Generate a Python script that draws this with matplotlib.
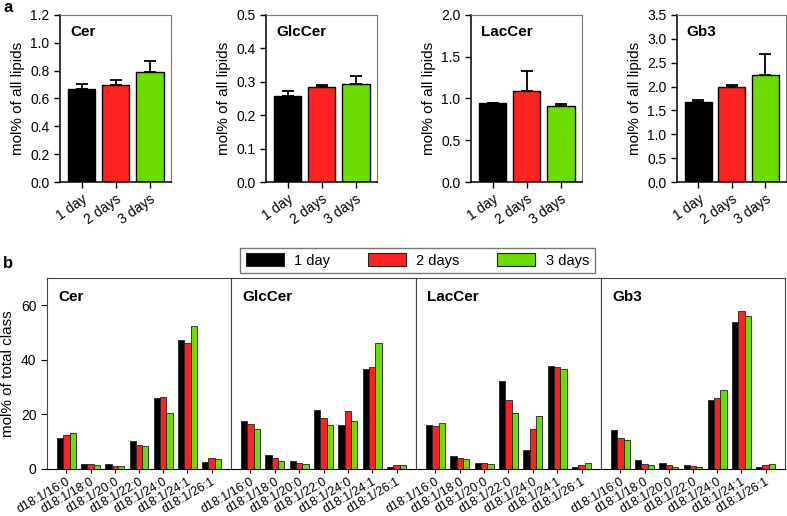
import numpy as np
import matplotlib.pyplot as plt
from matplotlib.patches import Patch

plt.rcParams['font.family'] = ['Liberation Sans', 'DejaVu Sans']

DAYS = ['1 day', '2 days', '3 days']
COLORS = ['#000000', '#FF2222', '#6CDB00']

# panel a: mean and upper error per class
CLASSES = ['Cer', 'GlcCer', 'LacCer', 'Gb3']
A_MEAN = {
    'Cer': [0.668, 0.697, 0.793],
    'GlcCer': [0.257, 0.284, 0.293],
    'LacCer': [0.946, 1.094, 0.907],
    'Gb3': [1.677, 1.999, 2.236],
}
A_ERR = {
    'Cer': [0.039, 0.034, 0.074],
    'GlcCer': [0.015, 0.007, 0.023],
    'LacCer': [0.0, 0.232, 0.033],
    'Gb3': [0.050, 0.034, 0.440],
}
A_YMAX = {'Cer': 1.2, 'GlcCer': 0.5, 'LacCer': 2.0, 'Gb3': 3.5}
A_YSTEP = {'Cer': 0.2, 'GlcCer': 0.1, 'LacCer': 0.5, 'Gb3': 0.5}

# panel b: species composition (mol% of total class)
SPECIES = ['d18:1/16:0', 'd18:1/18:0', 'd18:1/20:0', 'd18:1/22:0',
           'd18:1/24:0', 'd18:1/24:1', 'd18:1/26:1']
B_DAY1 = {
    'Cer': [11.5, 1.7, 2.0, 10.2, 26.0, 47.4, 2.5],
    'GlcCer': [17.6, 5.3, 3.1, 21.6, 16.3, 36.6, 0.6],
    'LacCer': [16.2, 4.8, 2.2, 32.2, 7.0, 37.9, 0.6],
    'Gb3': [14.4, 3.3, 2.1, 1.5, 25.4, 53.8, 0.9],
}
B_DAY2 = {
    'Cer': [12.6, 1.7, 1.2, 8.7, 26.4, 46.2, 3.9],
    'GlcCer': [16.5, 3.9, 2.2, 18.7, 21.1, 37.2, 1.6],
    'LacCer': [15.7, 4.1, 2.2, 25.4, 14.7, 37.2, 1.5],
    'Gb3': [11.3, 1.8, 1.4, 1.0, 25.9, 57.9, 1.5],
}
B_DAY3 = {
    'Cer': [13.1, 1.6, 1.0, 8.6, 20.6, 52.4, 3.6],
    'GlcCer': [14.6, 2.9, 1.8, 16.0, 17.7, 46.2, 1.6],
    'LacCer': [16.8, 3.7, 1.8, 20.6, 19.3, 36.5, 2.1],
    'Gb3': [10.8, 1.4, 0.9, 0.8, 28.8, 56.2, 2.0],
}

W, H = 787, 516
fig = plt.figure(figsize=(W / 100, H / 100), dpi=100)


def box(left, top, right, bottom):
    return [left / W, 1 - bottom / H, (right - left) / W, (bottom - top) / H]


# ---- panel a ----
a_lefts = [60, 266, 471, 677]
a_rights = [171, 377, 582, 786]
for cls, l, r in zip(CLASSES, a_lefts, a_rights):
    ax = fig.add_axes(box(l, 15, r, 182))
    x = np.arange(3)
    ax.bar(x, A_MEAN[cls], width=0.8, color=COLORS, edgecolor='black',
           linewidth=1.0, zorder=2)
    ax.errorbar(x, A_MEAN[cls], yerr=[np.zeros(3), A_ERR[cls]], fmt='none',
                ecolor='black', elinewidth=1.3, capsize=4, capthick=1.3, zorder=3)
    ax.set_xlim(-0.64, 2.62)
    ax.set_ylim(0, A_YMAX[cls])
    ax.set_yticks(np.arange(0, A_YMAX[cls] + 1e-9, A_YSTEP[cls]))
    ax.yaxis.set_major_formatter(plt.FormatStrFormatter('%.1f'))
    ax.set_xticks(x)
    ax.set_xticklabels(DAYS, rotation=35, ha='right', rotation_mode='anchor')
    ax.tick_params(labelsize=10, length=4, width=1, color='black')
    ax.set_ylabel('mol% of all lipids', fontsize=11)
    for s in ['top', 'right']:
        ax.spines[s].set_color('#777777')
    for s in ['left', 'bottom']:
        ax.spines[s].set_color('black')
        ax.spines[s].set_linewidth(1.1)
    ax.text(0.09, 0.9, cls, transform=ax.transAxes, fontsize=11,
            fontweight='bold', va='center', ha='left')

# ---- panel b ----
b_edges = [47, 231, 416, 601, 785]
xs = np.arange(len(SPECIES))
bw = 0.26
for i, cls in enumerate(CLASSES):
    ax = fig.add_axes(box(b_edges[i], 278, b_edges[i + 1], 469))
    for j, (vals, c) in enumerate(zip([B_DAY1, B_DAY2, B_DAY3], COLORS)):
        ax.bar(xs + (j - 1) * bw, vals[cls], width=bw, color=c,
               edgecolor='#222222', linewidth=0.6)
    ax.set_xlim(-0.8, 6.8)
    ax.set_ylim(0, 70)
    ax.set_xticks(xs)
    ax.set_xticklabels(SPECIES, rotation=30, ha='right', rotation_mode='anchor',
                       fontsize=9)
    ax.set_yticks([0, 20, 40, 60])
    if i == 0:
        ax.set_ylabel('mol% of total class', fontsize=11)
        ax.tick_params(axis='y', labelsize=10, length=4)
    else:
        ax.tick_params(axis='y', left=False, labelleft=False)
    ax.tick_params(axis='x', length=3, pad=1.5)
    for s in ['top', 'right', 'left']:
        ax.spines[s].set_color('#444444')
    ax.spines['bottom'].set_color('black')
    ax.text(0.06, 0.9, cls, transform=ax.transAxes, fontsize=11,
            fontweight='bold', va='center', ha='left')

handles = [Patch(facecolor=c, edgecolor='#222222', linewidth=0.8) for c in COLORS]
leg = fig.legend(handles, DAYS, loc='center', ncol=3,
                 bbox_to_anchor=(233 / W, 1 - 275 / H, 369 / W, 29 / H),
                 mode='expand', fontsize=10.5, handlelength=2.6, handleheight=0.9,
                 fancybox=False, edgecolor='#555555', borderpad=0.4,
                 handletextpad=0.7)
leg.get_frame().set_linewidth(1.0)

fig.text(3 / W, 1 - 8 / H, 'a', fontsize=12, fontweight='bold', va='center')
fig.text(3 / W, 1 - 264 / H, 'b', fontsize=12, fontweight='bold', va='center')

fig.savefig('out.png', dpi=100)
